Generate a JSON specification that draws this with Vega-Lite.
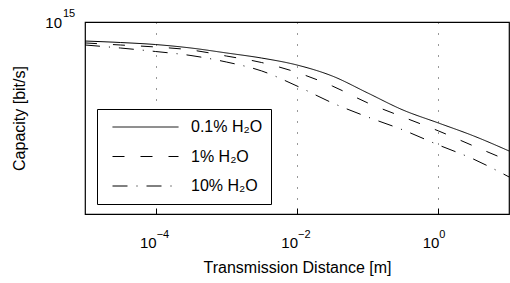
{
  "$schema": "https://vega.github.io/schema/vega-lite/v6.json",
  "autosize": "none",
  "width": 424,
  "height": 192,
  "padding": {"left": 85, "top": 22, "right": 1, "bottom": 69},
  "background": "white",
  "config": {
    "font": "Liberation Sans",
    "view": {"stroke": "black", "strokeWidth": 1.2},
    "axis": {"labelFont": "Liberation Sans", "titleFont": "Liberation Sans", "labelColor": "black", "titleColor": "black", "titleFontWeight": "normal", "domain": false},
    "text": {"font": "Liberation Sans", "color": "black"}
  },
  "datasets": {
    "curves": [
      {"x": 1e-5, "c": 7.96e14, "s": "0.1% H₂O"},
      {"x": 3.162e-5, "c": 7.82e14, "s": "0.1% H₂O"},
      {"x": 1e-4, "c": 7.63e14, "s": "0.1% H₂O"},
      {"x": 3.162e-4, "c": 7.32e14, "s": "0.1% H₂O"},
      {"x": 1e-3, "c": 6.90e14, "s": "0.1% H₂O"},
      {"x": 3.162e-3, "c": 6.49e14, "s": "0.1% H₂O"},
      {"x": 1e-2, "c": 5.97e14, "s": "0.1% H₂O"},
      {"x": 3.162e-2, "c": 5.23e14, "s": "0.1% H₂O"},
      {"x": 0.1, "c": 4.27e14, "s": "0.1% H₂O"},
      {"x": 0.3162, "c": 3.48e14, "s": "0.1% H₂O"},
      {"x": 1, "c": 2.98e14, "s": "0.1% H₂O"},
      {"x": 3.162, "c": 2.55e14, "s": "0.1% H₂O"},
      {"x": 10, "c": 2.13e14, "s": "0.1% H₂O"},
      {"x": 1e-5, "c": 7.78e14, "s": "1% H₂O"},
      {"x": 3.162e-5, "c": 7.59e14, "s": "1% H₂O"},
      {"x": 1e-4, "c": 7.41e14, "s": "1% H₂O"},
      {"x": 3.162e-4, "c": 7.15e14, "s": "1% H₂O"},
      {"x": 1e-3, "c": 6.65e14, "s": "1% H₂O"},
      {"x": 3.162e-3, "c": 6.15e14, "s": "1% H₂O"},
      {"x": 1e-2, "c": 5.46e14, "s": "1% H₂O"},
      {"x": 3.162e-2, "c": 4.64e14, "s": "1% H₂O"},
      {"x": 0.1, "c": 3.79e14, "s": "1% H₂O"},
      {"x": 0.3162, "c": 3.20e14, "s": "1% H₂O"},
      {"x": 1, "c": 2.71e14, "s": "1% H₂O"},
      {"x": 3.162, "c": 2.26e14, "s": "1% H₂O"},
      {"x": 10, "c": 1.89e14, "s": "1% H₂O"},
      {"x": 1e-5, "c": 7.59e14, "s": "10% H₂O"},
      {"x": 3.162e-5, "c": 7.32e14, "s": "10% H₂O"},
      {"x": 1e-4, "c": 7.02e14, "s": "10% H₂O"},
      {"x": 3.162e-4, "c": 6.69e14, "s": "10% H₂O"},
      {"x": 1e-3, "c": 6.19e14, "s": "10% H₂O"},
      {"x": 3.162e-3, "c": 5.56e14, "s": "10% H₂O"},
      {"x": 1e-2, "c": 4.64e14, "s": "10% H₂O"},
      {"x": 3.162e-2, "c": 3.79e14, "s": "10% H₂O"},
      {"x": 0.1, "c": 3.20e14, "s": "10% H₂O"},
      {"x": 0.3162, "c": 2.74e14, "s": "10% H₂O"},
      {"x": 1, "c": 2.29e14, "s": "10% H₂O"},
      {"x": 3.162, "c": 1.93e14, "s": "10% H₂O"},
      {"x": 10, "c": 1.56e14, "s": "10% H₂O"}
    ],
    "xticks": [
      {"x": 0.0001, "base": "10", "exp": "−4"},
      {"x": 0.01, "base": "10", "exp": "−2"},
      {"x": 1, "base": "10", "exp": "0"}
    ]
  },
  "layer": [
    {
      "data": {"name": "curves"},
      "mark": {"type": "line", "color": "black", "strokeWidth": 1, "interpolate": "monotone"},
      "encoding": {
        "x": {
          "field": "x", "type": "quantitative",
          "scale": {"type": "log", "domain": [1e-5, 10], "nice": false},
          "axis": {
            "values": [0.0001, 0.01, 1],
            "labels": false,
            "tickSize": -6,
            "tickColor": "black",
            "grid": true, "gridColor": "black", "gridDash": [1, 10], "gridOpacity": 0.8,
            "title": "Transmission Distance [m]",
            "titleFontSize": 16,
            "titlePadding": 45
          }
        },
        "y": {
          "field": "c", "type": "quantitative",
          "scale": {"type": "log", "domain": [1e14, 1e15], "nice": false},
          "axis": {
            "values": [1e15],
            "labels": false,
            "ticks": false,
            "grid": false,
            "title": "Capacity [bit/s]",
            "titleFontSize": 16,
            "titlePadding": 58
          }
        },
        "strokeDash": {
          "field": "s", "type": "nominal",
          "scale": {"domain": ["0.1% H₂O", "1% H₂O", "10% H₂O"], "range": [[1, 0], [12, 16], [15, 9, 1, 9]]},
          "legend": {
            "title": null,
            "orient": "none",
            "legendX": 12,
            "legendY": 87,
            "strokeColor": "black",
            "fillColor": "white",
            "padding": 8,
            "clipHeight": 20,
            "symbolType": "stroke",
            "symbolSize": 4356,
            "symbolStrokeWidth": 1,
            "symbolStrokeColor": "black",
            "symbolOffset": 7,
            "labelOffset": 12,
            "labelFontSize": 16,
            "labelFont": "Liberation Sans",
            "labelColor": "black",
            "rowPadding": 9.5
          }
        }
      }
    },
    {
      "data": {"name": "xticks"},
      "mark": {"type": "text", "align": "right", "baseline": "alphabetic", "fontSize": 15, "dx": 1, "dy": 34, "clip": false},
      "encoding": {
        "x": {"field": "x", "type": "quantitative"},
        "y": {"datum": 1e14, "type": "quantitative"},
        "text": {"field": "base"}
      }
    },
    {
      "data": {"name": "xticks"},
      "mark": {"type": "text", "align": "left", "baseline": "alphabetic", "fontSize": 11, "dx": 1, "dy": 24, "clip": false},
      "encoding": {
        "x": {"field": "x", "type": "quantitative"},
        "y": {"datum": 1e14, "type": "quantitative"},
        "text": {"field": "exp"}
      }
    },
    {
      "data": {"values": [{"base": "10", "exp": "15"}]},
      "layer": [
        {
          "mark": {"type": "text", "align": "right", "baseline": "alphabetic", "fontSize": 15, "dx": -23, "dy": 6, "clip": false},
          "encoding": {
            "x": {"datum": 1e-5, "type": "quantitative"},
            "y": {"datum": 1e15, "type": "quantitative"},
            "text": {"field": "base"}
          }
        },
        {
          "mark": {"type": "text", "align": "left", "baseline": "alphabetic", "fontSize": 11, "dx": -22, "dy": -5, "clip": false},
          "encoding": {
            "x": {"datum": 1e-5, "type": "quantitative"},
            "y": {"datum": 1e15, "type": "quantitative"},
            "text": {"field": "exp"}
          }
        }
      ]
    }
  ]
}
